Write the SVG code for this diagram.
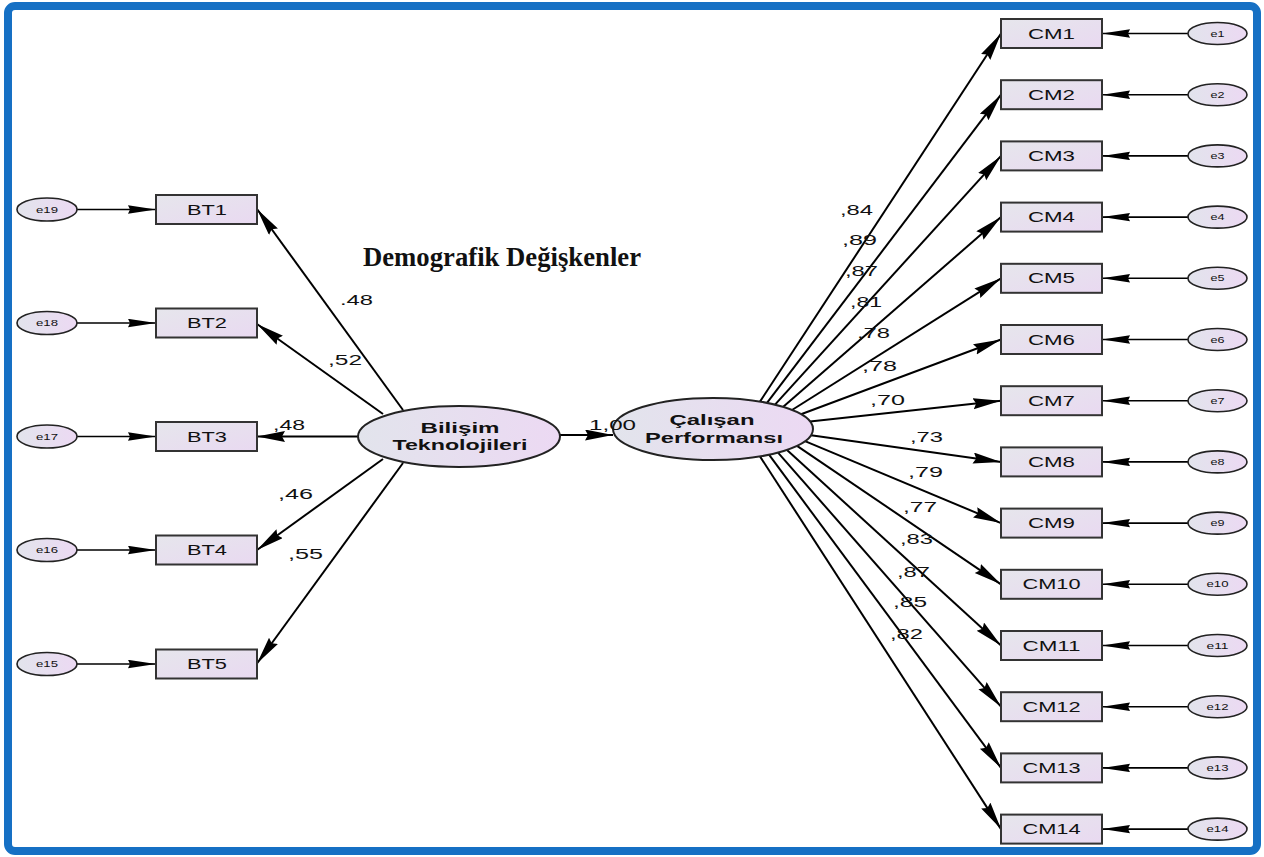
<svg xmlns="http://www.w3.org/2000/svg" width="1264" height="857" viewBox="0 0 1264 857">
<defs>
<linearGradient id="gBox" x1="0" y1="0" x2="1" y2="1">
<stop offset="0" stop-color="#e6e6ec"/><stop offset="1" stop-color="#e9d9f1"/>
</linearGradient>
<linearGradient id="gEl" x1="0" y1="0" x2="1" y2="0">
<stop offset="0" stop-color="#e2e4ec"/><stop offset="1" stop-color="#ecd9f3"/>
</linearGradient>
<marker id="ah" markerWidth="30" markerHeight="12" refX="28" refY="5.5" orient="auto" markerUnits="userSpaceOnUse">
<path d="M0,0 L28,5.5 L0,11 L3,5.5 Z" fill="#000"/>
</marker>
<marker id="ahs" markerWidth="30" markerHeight="10" refX="28" refY="4.5" orient="auto" markerUnits="userSpaceOnUse">
<path d="M0,0.3 L28,4.5 L0,8.7 L2,4.5 Z" fill="#000"/>
</marker>
</defs>
<style>
.box{fill:url(#gBox);stroke:#333;stroke-width:2}
.err{fill:url(#gEl);stroke:#222;stroke-width:1.6}
.lat{fill:url(#gEl);stroke:#222;stroke-width:2}
.p{stroke:#000;stroke-width:2;fill:none;marker-end:url(#ah)}
.pe{stroke:#000;stroke-width:1.6;fill:none;marker-end:url(#ahs)}
.t{font-family:"Liberation Sans",Arial,sans-serif;font-size:14px;fill:#111;text-anchor:middle}
.te{font-family:"Liberation Sans",Arial,sans-serif;font-size:9px;fill:#111;text-anchor:middle}
.tl{font-family:"Liberation Sans",Arial,sans-serif;font-size:15px;font-weight:bold;fill:#111;text-anchor:middle}
.n{font-family:"Liberation Sans",Arial,sans-serif;font-size:14px;fill:#111}
</style>
<rect width="1264" height="857" fill="#fff"/>
<rect x="8" y="6" width="1249" height="845" rx="7" fill="none" stroke="#1670c4" stroke-width="8"/>

<text x="363" y="266" font-family="'Liberation Serif','Times New Roman',serif" font-weight="bold" font-size="27" textLength="278" lengthAdjust="spacingAndGlyphs" fill="#111">Demografik Değişkenler</text>

<g id="connectors">
<path class="pe" d="M77,209.5 L156,209.5"/>
<path class="pe" d="M77,323 L156,323"/>
<path class="pe" d="M77,436.5 L156,436.5"/>
<path class="pe" d="M77,550 L156,550"/>
<path class="pe" d="M77,664 L156,664"/>
<path class="p" d="M403,410 L257,209"/>
<path class="p" d="M383,414 L257,324"/>
<path class="p" d="M358,436.5 L257,436.5"/>
<path class="p" d="M383,459 L257,550"/>
<path class="p" d="M403,463 L257,663.5"/>
<path class="p" d="M560,435 L613,435"/>
<path class="p" d="M760,401.6 L1001,33.5"/>
<path class="p" d="M767,402.9 L1001,94.7"/>
<path class="p" d="M775,404.7 L1001,155.9"/>
<path class="p" d="M783,406.9 L1001,217.1"/>
<path class="p" d="M792,410 L1001,278.3"/>
<path class="p" d="M801,414.3 L1001,339.5"/>
<path class="p" d="M810,421.5 L1001,400.7"/>
<path class="p" d="M811,435.2 L1001,461.9"/>
<path class="p" d="M805,441.2 L1001,523.1"/>
<path class="p" d="M797,445.8 L1001,584.3"/>
<path class="p" d="M787,449.9 L1001,645.5"/>
<path class="p" d="M778,452.6 L1001,706.7"/>
<path class="p" d="M769,454.7 L1001,767.9"/>
<path class="p" d="M760,456.4 L1001,829.1"/>
<path class="pe" d="M1188,33.5 L1102,33.5"/>
<path class="pe" d="M1188,94.7 L1102,94.7"/>
<path class="pe" d="M1188,155.9 L1102,155.9"/>
<path class="pe" d="M1188,217.1 L1102,217.1"/>
<path class="pe" d="M1188,278.3 L1102,278.3"/>
<path class="pe" d="M1188,339.5 L1102,339.5"/>
<path class="pe" d="M1188,400.7 L1102,400.7"/>
<path class="pe" d="M1188,461.9 L1102,461.9"/>
<path class="pe" d="M1188,523.1 L1102,523.1"/>
<path class="pe" d="M1188,584.3 L1102,584.3"/>
<path class="pe" d="M1188,645.5 L1102,645.5"/>
<path class="pe" d="M1188,706.7 L1102,706.7"/>
<path class="pe" d="M1188,767.9 L1102,767.9"/>
<path class="pe" d="M1188,829.1 L1102,829.1"/>
</g>

<g id="bilisim"><ellipse class="lat" cx="459" cy="436.5" rx="101" ry="30.5"/>
<text class="tl" x="460" y="433" textLength="79" lengthAdjust="spacingAndGlyphs">Bilişim</text>
<text class="tl" x="460" y="450" textLength="135" lengthAdjust="spacingAndGlyphs">Teknolojileri</text></g>
<g id="calisan"><ellipse class="lat" cx="713" cy="429" rx="100" ry="31"/>
<text class="tl" x="712" y="425" textLength="85" lengthAdjust="spacingAndGlyphs">Çalışan</text>
<text class="tl" x="714" y="443" textLength="138" lengthAdjust="spacingAndGlyphs">Performansı</text></g>

<g id="BT1"><rect class="box" x="156" y="195" width="101" height="29"/><text class="t" x="207" y="214.5" textLength="40" lengthAdjust="spacingAndGlyphs">BT1</text></g>
<g id="BT2"><rect class="box" x="156" y="308.5" width="101" height="29"/><text class="t" x="207" y="328" textLength="40" lengthAdjust="spacingAndGlyphs">BT2</text></g>
<g id="BT3"><rect class="box" x="156" y="422" width="101" height="29"/><text class="t" x="207" y="441.5" textLength="40" lengthAdjust="spacingAndGlyphs">BT3</text></g>
<g id="BT4"><rect class="box" x="156" y="535.5" width="101" height="29"/><text class="t" x="207" y="555" textLength="40" lengthAdjust="spacingAndGlyphs">BT4</text></g>
<g id="BT5"><rect class="box" x="156" y="649.5" width="101" height="29"/><text class="t" x="207" y="669" textLength="40" lengthAdjust="spacingAndGlyphs">BT5</text></g>

<g id="e19"><ellipse class="err" cx="47" cy="209.5" rx="30" ry="11.5"/><text class="te" x="47" y="212.5" textLength="22" lengthAdjust="spacingAndGlyphs">e19</text></g>
<g id="e18"><ellipse class="err" cx="47" cy="323" rx="30" ry="11.5"/><text class="te" x="47" y="326" textLength="22" lengthAdjust="spacingAndGlyphs">e18</text></g>
<g id="e17"><ellipse class="err" cx="47" cy="436.5" rx="30" ry="11.5"/><text class="te" x="47" y="439.5" textLength="22" lengthAdjust="spacingAndGlyphs">e17</text></g>
<g id="e16"><ellipse class="err" cx="47" cy="550" rx="30" ry="11.5"/><text class="te" x="47" y="553" textLength="22" lengthAdjust="spacingAndGlyphs">e16</text></g>
<g id="e15"><ellipse class="err" cx="47" cy="664" rx="30" ry="11.5"/><text class="te" x="47" y="667" textLength="22" lengthAdjust="spacingAndGlyphs">e15</text></g>

<g id="CM1"><rect class="box" x="1001" y="19" width="101" height="29"/><text class="t" x="1051.5" y="38.5" textLength="47" lengthAdjust="spacingAndGlyphs">CM1</text></g>
<g id="CM2"><rect class="box" x="1001" y="80.2" width="101" height="29"/><text class="t" x="1051.5" y="99.7" textLength="47" lengthAdjust="spacingAndGlyphs">CM2</text></g>
<g id="CM3"><rect class="box" x="1001" y="141.4" width="101" height="29"/><text class="t" x="1051.5" y="160.9" textLength="47" lengthAdjust="spacingAndGlyphs">CM3</text></g>
<g id="CM4"><rect class="box" x="1001" y="202.6" width="101" height="29"/><text class="t" x="1051.5" y="222.1" textLength="47" lengthAdjust="spacingAndGlyphs">CM4</text></g>
<g id="CM5"><rect class="box" x="1001" y="263.8" width="101" height="29"/><text class="t" x="1051.5" y="283.3" textLength="47" lengthAdjust="spacingAndGlyphs">CM5</text></g>
<g id="CM6"><rect class="box" x="1001" y="325" width="101" height="29"/><text class="t" x="1051.5" y="344.5" textLength="47" lengthAdjust="spacingAndGlyphs">CM6</text></g>
<g id="CM7"><rect class="box" x="1001" y="386.2" width="101" height="29"/><text class="t" x="1051.5" y="405.7" textLength="47" lengthAdjust="spacingAndGlyphs">CM7</text></g>
<g id="CM8"><rect class="box" x="1001" y="447.4" width="101" height="29"/><text class="t" x="1051.5" y="466.9" textLength="47" lengthAdjust="spacingAndGlyphs">CM8</text></g>
<g id="CM9"><rect class="box" x="1001" y="508.6" width="101" height="29"/><text class="t" x="1051.5" y="528.1" textLength="47" lengthAdjust="spacingAndGlyphs">CM9</text></g>
<g id="CM10"><rect class="box" x="1001" y="569.8" width="101" height="29"/><text class="t" x="1051.5" y="589.3" textLength="58" lengthAdjust="spacingAndGlyphs">CM10</text></g>
<g id="CM11"><rect class="box" x="1001" y="631" width="101" height="29"/><text class="t" x="1051.5" y="650.5" textLength="58" lengthAdjust="spacingAndGlyphs">CM11</text></g>
<g id="CM12"><rect class="box" x="1001" y="692.2" width="101" height="29"/><text class="t" x="1051.5" y="711.7" textLength="58" lengthAdjust="spacingAndGlyphs">CM12</text></g>
<g id="CM13"><rect class="box" x="1001" y="753.4" width="101" height="29"/><text class="t" x="1051.5" y="772.9" textLength="58" lengthAdjust="spacingAndGlyphs">CM13</text></g>
<g id="CM14"><rect class="box" x="1001" y="814.6" width="101" height="29"/><text class="t" x="1051.5" y="834.1" textLength="58" lengthAdjust="spacingAndGlyphs">CM14</text></g>

<g id="e1"><ellipse class="err" cx="1217.5" cy="33.5" rx="29.5" ry="11"/><text class="te" x="1217.5" y="36.5" textLength="14" lengthAdjust="spacingAndGlyphs">e1</text></g>
<g id="e2"><ellipse class="err" cx="1217.5" cy="94.7" rx="29.5" ry="11"/><text class="te" x="1217.5" y="97.7" textLength="14" lengthAdjust="spacingAndGlyphs">e2</text></g>
<g id="e3"><ellipse class="err" cx="1217.5" cy="155.9" rx="29.5" ry="11"/><text class="te" x="1217.5" y="158.9" textLength="14" lengthAdjust="spacingAndGlyphs">e3</text></g>
<g id="e4"><ellipse class="err" cx="1217.5" cy="217.1" rx="29.5" ry="11"/><text class="te" x="1217.5" y="220.1" textLength="14" lengthAdjust="spacingAndGlyphs">e4</text></g>
<g id="e5"><ellipse class="err" cx="1217.5" cy="278.3" rx="29.5" ry="11"/><text class="te" x="1217.5" y="281.3" textLength="14" lengthAdjust="spacingAndGlyphs">e5</text></g>
<g id="e6"><ellipse class="err" cx="1217.5" cy="339.5" rx="29.5" ry="11"/><text class="te" x="1217.5" y="342.5" textLength="14" lengthAdjust="spacingAndGlyphs">e6</text></g>
<g id="e7"><ellipse class="err" cx="1217.5" cy="400.7" rx="29.5" ry="11"/><text class="te" x="1217.5" y="403.7" textLength="14" lengthAdjust="spacingAndGlyphs">e7</text></g>
<g id="e8"><ellipse class="err" cx="1217.5" cy="461.9" rx="29.5" ry="11"/><text class="te" x="1217.5" y="464.9" textLength="14" lengthAdjust="spacingAndGlyphs">e8</text></g>
<g id="e9"><ellipse class="err" cx="1217.5" cy="523.1" rx="29.5" ry="11"/><text class="te" x="1217.5" y="526.1" textLength="14" lengthAdjust="spacingAndGlyphs">e9</text></g>
<g id="e10"><ellipse class="err" cx="1217.5" cy="584.3" rx="29.5" ry="11"/><text class="te" x="1217.5" y="587.3" textLength="22" lengthAdjust="spacingAndGlyphs">e10</text></g>
<g id="e11"><ellipse class="err" cx="1217.5" cy="645.5" rx="29.5" ry="11"/><text class="te" x="1217.5" y="648.5" textLength="22" lengthAdjust="spacingAndGlyphs">e11</text></g>
<g id="e12"><ellipse class="err" cx="1217.5" cy="706.7" rx="29.5" ry="11"/><text class="te" x="1217.5" y="709.7" textLength="22" lengthAdjust="spacingAndGlyphs">e12</text></g>
<g id="e13"><ellipse class="err" cx="1217.5" cy="767.9" rx="29.5" ry="11"/><text class="te" x="1217.5" y="770.9" textLength="22" lengthAdjust="spacingAndGlyphs">e13</text></g>
<g id="e14"><ellipse class="err" cx="1217.5" cy="829.1" rx="29.5" ry="11"/><text class="te" x="1217.5" y="832.1" textLength="22" lengthAdjust="spacingAndGlyphs">e14</text></g>

<g id="path-labels">
<text class="n" x="340" y="305" textLength="33" lengthAdjust="spacingAndGlyphs">.48</text>
<text class="n" x="328" y="365" textLength="34" lengthAdjust="spacingAndGlyphs">,52</text>
<text class="n" x="273" y="430" textLength="32" lengthAdjust="spacingAndGlyphs">,48</text>
<text class="n" x="278" y="499" textLength="35" lengthAdjust="spacingAndGlyphs">,46</text>
<text class="n" x="288" y="559" textLength="35" lengthAdjust="spacingAndGlyphs">,55</text>
<text class="n" x="589" y="430" textLength="47" lengthAdjust="spacingAndGlyphs">1,00</text>
<text class="n" x="840" y="215" textLength="33" lengthAdjust="spacingAndGlyphs">,84</text>
<text class="n" x="842" y="245" textLength="35" lengthAdjust="spacingAndGlyphs">,89</text>
<text class="n" x="845" y="276" textLength="33" lengthAdjust="spacingAndGlyphs">,87</text>
<text class="n" x="850" y="307" textLength="32" lengthAdjust="spacingAndGlyphs">,81</text>
<text class="n" x="857" y="338" textLength="33" lengthAdjust="spacingAndGlyphs">,78</text>
<text class="n" x="862" y="371" textLength="35" lengthAdjust="spacingAndGlyphs">,78</text>
<text class="n" x="870" y="405" textLength="35" lengthAdjust="spacingAndGlyphs">,70</text>
<text class="n" x="910" y="442" textLength="33" lengthAdjust="spacingAndGlyphs">,73</text>
<text class="n" x="908" y="477" textLength="35" lengthAdjust="spacingAndGlyphs">,79</text>
<text class="n" x="903" y="512" textLength="34" lengthAdjust="spacingAndGlyphs">,77</text>
<text class="n" x="900" y="544" textLength="33" lengthAdjust="spacingAndGlyphs">,83</text>
<text class="n" x="897" y="577" textLength="33" lengthAdjust="spacingAndGlyphs">,87</text>
<text class="n" x="893" y="607" textLength="34" lengthAdjust="spacingAndGlyphs">,85</text>
<text class="n" x="890" y="639" textLength="33" lengthAdjust="spacingAndGlyphs">,82</text>
</g>
</svg>
